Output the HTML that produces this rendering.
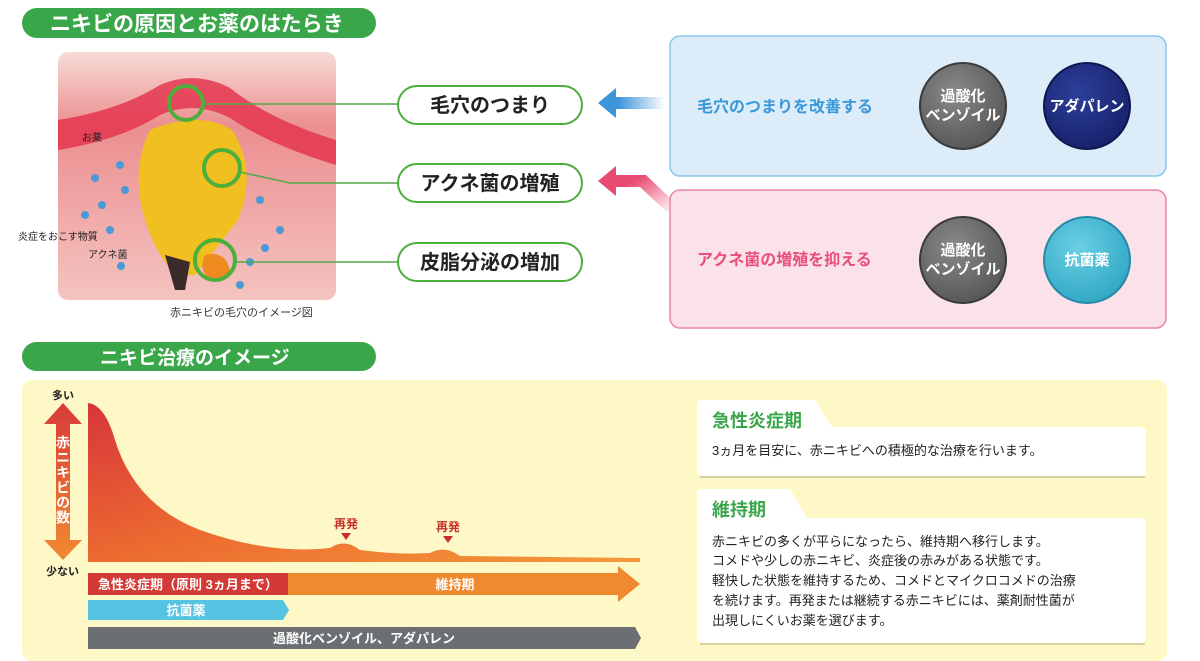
<!DOCTYPE html>
<html><head><meta charset="utf-8"><style>
html,body{margin:0;padding:0;background:#fff;}
svg{display:block;font-family:"Liberation Sans","Noto Sans CJK JP",sans-serif;}
</style></head><body>
<svg width="1200" height="661" viewBox="0 0 1200 661" xmlns="http://www.w3.org/2000/svg">
<defs>
<linearGradient id="curve" x1="0" y1="0" x2="1" y2="1"><stop offset="0" stop-color="#d8353a"/><stop offset="0.5" stop-color="#ec6a30"/><stop offset="1" stop-color="#f39a3a"/></linearGradient>
<linearGradient id="vax" x1="0" y1="0" x2="0" y2="1"><stop offset="0" stop-color="#d93a38"/><stop offset="1" stop-color="#f08a30"/></linearGradient>
<linearGradient id="skin" x1="0" y1="0" x2="0" y2="1"><stop offset="0" stop-color="#f6dcd6"/><stop offset="0.3" stop-color="#ec8e90"/><stop offset="1" stop-color="#f4c4c0"/></linearGradient>
<linearGradient id="barr" x1="1" y1="0" x2="0" y2="0"><stop offset="0" stop-color="#3d95da" stop-opacity="0"/><stop offset="0.7" stop-color="#3d95da" stop-opacity="1"/><stop offset="1" stop-color="#3d95da" stop-opacity="1"/></linearGradient>
<linearGradient id="parr" x1="1" y1="1" x2="0" y2="0"><stop offset="0" stop-color="#e84a72" stop-opacity="0"/><stop offset="0.6" stop-color="#e84a72" stop-opacity="1"/><stop offset="1" stop-color="#e84a72" stop-opacity="1"/></linearGradient>
<radialGradient id="g1" cx="0.4" cy="0.35" r="0.7"><stop offset="0" stop-color="#8a8a8a"/><stop offset="1" stop-color="#555"/></radialGradient>
<radialGradient id="g2" cx="0.4" cy="0.35" r="0.7"><stop offset="0" stop-color="#2c3f9a"/><stop offset="1" stop-color="#17216a"/></radialGradient>
<radialGradient id="g3" cx="0.4" cy="0.35" r="0.7"><stop offset="0" stop-color="#6ad0e4"/><stop offset="1" stop-color="#2fa6c4"/></radialGradient>
</defs>

<rect x="22" y="8" width="354" height="30" rx="15" fill="#3aa64a"/>
<text x="50" y="31" font-size="21" font-weight="bold" fill="#fff">ニキビの原因とお薬のはたらき</text>

<rect x="58" y="52" width="278" height="248" rx="10" fill="url(#skin)"/>
<path d="M58 120 Q120 110 160 85 Q195 70 230 88 Q270 120 336 140 L336 165 Q270 145 230 118 Q195 100 160 115 Q120 140 58 150 Z" fill="#e4304a" opacity="0.8"/>
<path d="M150 130 Q130 170 145 220 Q160 265 180 275 L195 275 Q215 250 238 220 Q258 170 232 130 Q200 110 150 130Z" fill="#f0c020"/>
<path d="M165 255 L175 290 L185 290 L190 262Z" fill="#3a2a2a"/>
<path d="M205 255 Q225 250 230 270 Q222 285 210 280 Q198 270 205 255Z" fill="#ee8a20"/>
<g fill="#4a9ad8">
<circle cx="95" cy="178" r="4"/><circle cx="120" cy="165" r="4"/><circle cx="102" cy="205" r="4"/><circle cx="125" cy="190" r="4"/><circle cx="110" cy="230" r="4"/><circle cx="121" cy="266" r="4"/><circle cx="260" cy="200" r="4"/><circle cx="280" cy="230" r="4"/><circle cx="265" cy="248" r="4"/><circle cx="250" cy="262" r="4"/><circle cx="240" cy="285" r="4"/><circle cx="85" cy="215" r="4"/>
</g>
<circle cx="186" cy="103" r="17" fill="none" stroke="#4caf3c" stroke-width="4"/>
<circle cx="222" cy="168" r="18" fill="none" stroke="#4caf3c" stroke-width="4"/>
<circle cx="215" cy="260" r="20" fill="none" stroke="#4caf3c" stroke-width="4"/>
<g font-size="10" fill="#222">
<text x="82" y="141">お薬</text>
<text x="18" y="240">炎症をおこす物質</text>
<text x="88" y="258">アクネ菌</text>
</g>
<text x="170" y="316" font-size="11" fill="#333">赤ニキビの毛穴のイメージ図</text>
<g stroke="#55a84a" stroke-width="1.5" fill="none">
<line x1="203" y1="104" x2="398" y2="104"/>
<polyline points="240,172 290,183 398,183"/>
<line x1="235" y1="262" x2="398" y2="262"/>
</g>

<g fill="#fff" stroke="#4caf3c" stroke-width="2">
<rect x="398" y="86" width="184" height="38" rx="19"/>
<rect x="398" y="164" width="184" height="38" rx="19"/>
<rect x="398" y="243" width="184" height="38" rx="19"/>
</g>
<g font-size="20" font-weight="bold" fill="#222" text-anchor="middle">
<text x="490" y="112">毛穴のつまり</text>
<text x="490" y="190">アクネ菌の増殖</text>
<text x="490" y="269">皮脂分泌の増加</text>
</g>

<!-- arrows -->
<path d="M665 97 L616 97 L616 88 L598 103 L616 118 L616 109 L665 109Z" fill="url(#barr)"/>
<path d="M670 215 L640 187 L616 187 L616 196 L598 181 L616 166 L616 175 L646 175 L670 198Z" fill="url(#parr)"/>

<rect x="670" y="36" width="496" height="140" rx="10" fill="#dcedf9" stroke="#8cc6ea" stroke-width="1.5"/>
<text x="697" y="112" font-size="16" font-weight="bold" fill="#3a98d8">毛穴のつまりを改善する</text>
<circle cx="963" cy="106" r="43" fill="url(#g1)" stroke="#3a3a3a" stroke-width="2"/>
<circle cx="1087" cy="106" r="43" fill="url(#g2)" stroke="#0f1650" stroke-width="2"/>
<g font-size="15" font-weight="bold" fill="#fff" text-anchor="middle">
<text x="963" y="101">過酸化</text><text x="963" y="120">ベンゾイル</text>
<text x="1087" y="111">アダパレン</text>
</g>

<rect x="670" y="190" width="496" height="138" rx="10" fill="#fbe2ea" stroke="#e8889f" stroke-width="1.5"/>
<text x="697" y="265" font-size="16" font-weight="bold" fill="#e8507a">アクネ菌の増殖を抑える</text>
<circle cx="963" cy="260" r="43" fill="url(#g1)" stroke="#3a3a3a" stroke-width="2"/>
<circle cx="1087" cy="260" r="43" fill="url(#g3)" stroke="#2888a8" stroke-width="2"/>
<g font-size="15" font-weight="bold" fill="#fff" text-anchor="middle">
<text x="963" y="255">過酸化</text><text x="963" y="274">ベンゾイル</text>
<text x="1087" y="265">抗菌薬</text>
</g>

<rect x="22" y="342" width="354" height="29" rx="14.5" fill="#3aa64a"/>
<text x="100" y="364" font-size="19" font-weight="bold" fill="#fff">ニキビ治療のイメージ</text>

<rect x="22" y="380" width="1145" height="281" rx="10" fill="#fdf8c6"/>

<text x="52" y="399" font-size="11" font-weight="bold" fill="#222">多い</text>
<path d="M63 403 L82 424 L70 424 L70 540 L82 540 L63 560 L44 540 L56 540 L56 424 L44 424Z" fill="url(#vax)"/>
<text x="63" y="480" font-size="14" font-weight="bold" fill="#fff" text-anchor="middle" writing-mode="tb" letter-spacing="1">赤ニキビの数</text>
<text x="46" y="575" font-size="11" font-weight="bold" fill="#222">少ない</text>

<path d="M88 403 Q105 405 115 440 Q135 505 200 530 Q270 555 330 548 Q345 538 360 550 Q400 555 430 553 Q445 545 460 556 L640 558 L640 562 L88 562Z" fill="url(#curve)"/>
<g font-size="12" font-weight="bold" fill="#c8302e" text-anchor="middle">
<text x="346" y="528">再発</text><text x="448" y="531">再発</text>
</g>
<path d="M341 533 L351 533 L346 540Z M443 536 L453 536 L448 543Z" fill="#c8302e"/>

<rect x="88" y="573" width="200" height="22" fill="#d33a36"/>
<path d="M288 573 L618 573 L618 566 L640 584 L618 602 L618 595 L288 595Z" fill="#f08a30"/>
<text x="98" y="589" font-size="13" font-weight="bold" fill="#fff">急性炎症期（原則 3ヵ月まで）</text>
<text x="455" y="589" font-size="13" font-weight="bold" fill="#fff" text-anchor="middle">維持期</text>
<path d="M88 600 L283 600 L289 610 L283 620 L88 620Z" fill="#55c3e2"/>
<text x="186" y="615" font-size="13" font-weight="bold" fill="#fff" text-anchor="middle">抗菌薬</text>
<path d="M88 627 L635 627 L641 638 L635 649 L88 649Z" fill="#6b6f72"/>
<text x="364" y="643" font-size="13" font-weight="bold" fill="#fff" text-anchor="middle">過酸化ベンゾイル、アダパレン</text>

<g fill="#fff">
<path d="M702 400 L815 400 L832 427 L1140 427 Q1146 427 1146 433 L1146 471 Q1146 476 1140 476 L705 476 Q697 476 697 470 L697 405 Q697 400 702 400Z"/>
<path d="M702 489 L790 489 L807 518 L1140 518 Q1146 518 1146 524 L1146 638 Q1146 643 1140 643 L705 643 Q697 643 697 637 L697 494 Q697 489 702 489Z"/>
</g>
<line x1="700" y1="477" x2="1145" y2="477" stroke="#d6d2a0" stroke-width="2"/>
<line x1="700" y1="644" x2="1145" y2="644" stroke="#d6d2a0" stroke-width="2"/>
<text x="712" y="427" font-size="18" font-weight="bold" fill="#3aa64a">急性炎症期</text>
<text x="712" y="455" font-size="13" fill="#222">3ヵ月を目安に、赤ニキビへの積極的な治療を行います。</text>
<text x="712" y="516" font-size="18" font-weight="bold" fill="#3aa64a">維持期</text>
<g font-size="13" fill="#222">
<text x="712" y="546">赤ニキビの多くが平らになったら、維持期へ移行します。</text>
<text x="712" y="565">コメドや少しの赤ニキビ、炎症後の赤みがある状態です。</text>
<text x="712" y="585">軽快した状態を維持するため、コメドとマイクロコメドの治療</text>
<text x="712" y="605">を続けます。再発または継続する赤ニキビには、薬剤耐性菌が</text>
<text x="712" y="625">出現しにくいお薬を選びます。</text>
</g>
</svg>
</body></html>
